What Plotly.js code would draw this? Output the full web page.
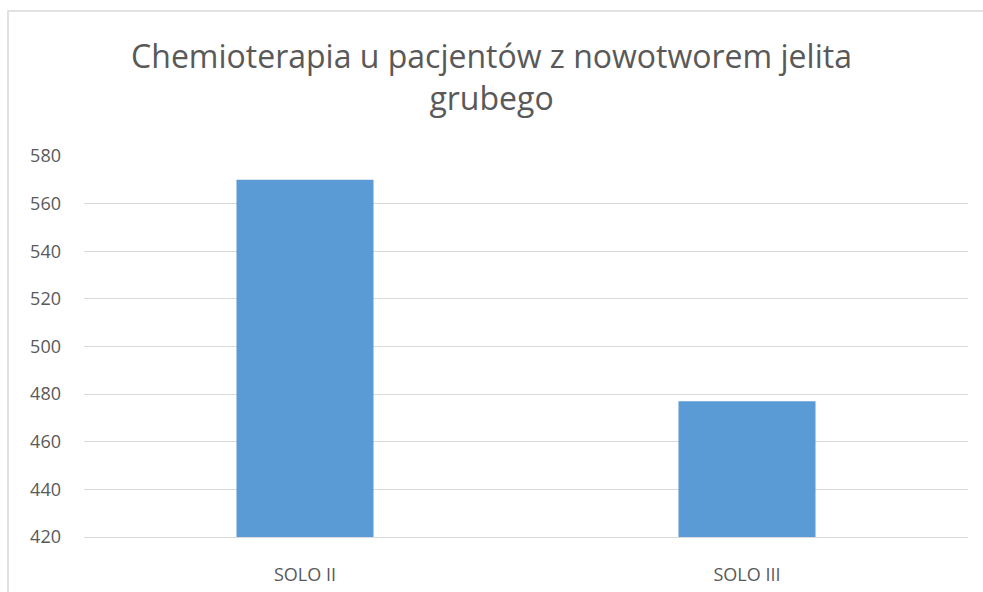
<!DOCTYPE html>
<html>
<head>
<meta charset="utf-8">
<script src="https://cdn.plot.ly/plotly-3.0.1.min.js"></script>
<style>
  html, body { margin: 0; padding: 0; background: #fff; }
  #wykres { width: 983px; height: 592px; }
</style>
</head>
<body>
<div id="wykres"></div>
<script>
// Dane wykresu
const kategorie = ["SOLO II", "SOLO III"];
const wartosci = [570, 477];
const tickiY = [420, 440, 460, 480, 500, 520, 540, 560, 580];

const szary = "#595959";

const trace = {
    x: kategorie,
    y: wartosci,
    type: "bar",
    marker: { color: "#5b9bd5" },
    hoverinfo: "x+y"
};

const layout = {
    width: 983,
    height: 592,
    margin: { l: 84, r: 15, t: 156, b: 55 },
    paper_bgcolor: "#fff",
    plot_bgcolor: "#fff",
    font: { family: "Open Sans, sans-serif", color: szary },
    title: {
        text: "Chemioterapia u pacjentów z nowotworem jelita<br>grubego",
        font: { size: 32, color: szary },
        x: 0.5,
        xanchor: "center",
        yref: "container",
        y: 1 - 68 / 592,
        yanchor: "top"
    },
    bargap: 0.69,
    showlegend: false,
    xaxis: {
        showgrid: false,
        showline: true,
        linecolor: "#d9d9d9",
        linewidth: 1,
        tickfont: { size: 18, color: szary },
        ticks: "",
        ticklabelstandoff: 21
    },
    yaxis: {
        range: [420, 580],
        tickvals: tickiY,
        showgrid: true,
        gridcolor: "#d9d9d9",
        zeroline: false,
        showline: false,
        ticks: "",
        tickfont: { size: 18, color: szary },
        ticklabelstandoff: 22
    },
    shapes: [{
        type: "rect",
        xref: "paper",
        yref: "paper",
        x0: (8 - 84) / 884,
        x1: 1.2,
        y0: -0.3,
        y1: (537 - 11) / 381,
        line: { color: "#d9d9d9", width: 1.5 },
        fillcolor: "rgba(0,0,0,0)",
        layer: "below"
    }]
};

Plotly.newPlot("wykres", [trace], layout, { displayModeBar: false });
</script>
</body>
</html>
